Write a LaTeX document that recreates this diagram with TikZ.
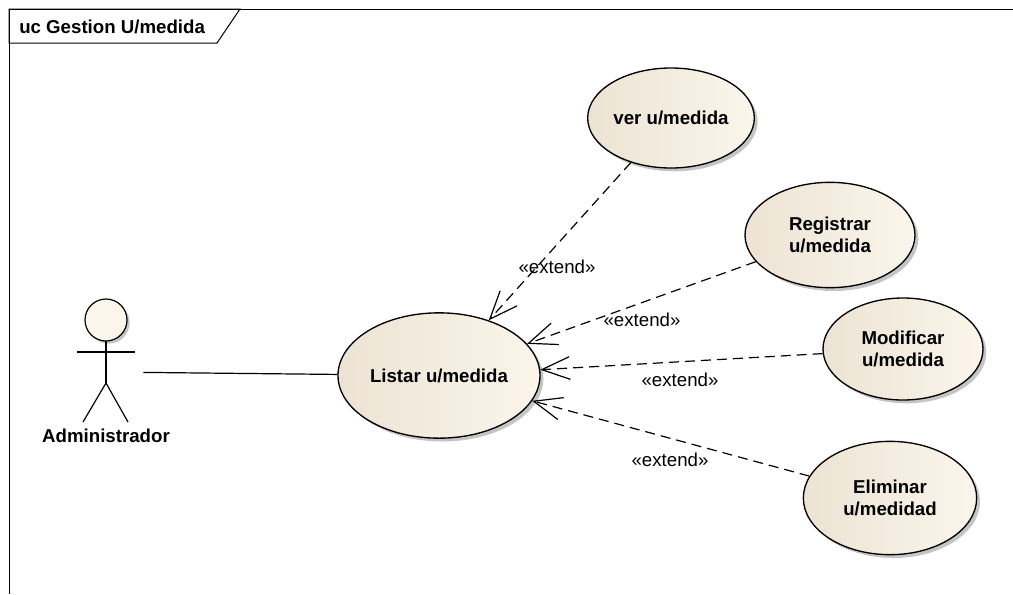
\documentclass[tikz,border=0pt]{standalone}
\usepackage{fontspec}
\setmainfont{Liberation Sans}
\usetikzlibrary{shapes.geometric,arrows.meta,shadows}

\definecolor{ucleft}{RGB}{236,227,212}
\definecolor{ucright}{RGB}{251,245,235}

\tikzset{
	usecase/.style={ellipse,draw,line width=1pt,left color=ucleft,right color=ucright,
		align=center,inner sep=0pt,font=\fontsize{14}{16.5}\selectfont\bfseries,
		drop shadow={shadow xshift=2.5pt,shadow yshift=-2.5pt,fill=black!45,opacity=.5}},
	extendline/.style={line width=0.9pt,dash pattern=on 7.5pt off 4.5pt,
		-{Straight Barb[length=21pt,width=17pt,line width=0.9pt]}},
	extendlabel/.style={font=\fontsize{14}{16}\selectfont,inner sep=0.75pt},
}

\begin{document}
\begin{tikzpicture}[x=0.75pt,y=0.75pt,yscale=-1,xscale=1]
	\useasboundingbox (0,0) rectangle (1013,594);
	
	%Frame
	\draw [line width=0.75pt] (9,594) -- (9,9) -- (1013,9) ;
	\draw [line width=0.75pt] (9,9) -- (240,9) -- (217,43) -- (9,43) -- cycle ;
	% Text Node
	\node (title) [anchor=west,inner sep=0.75pt,font=\fontsize{14}{16}\selectfont\bfseries] at (18,26.5) {uc Gestion U/medida};
	
	%Shape: Actor
	\node (admin) [minimum width=55.5pt,minimum height=100pt,inner sep=0pt] at (106,372) {};
	\draw [line width=0.9pt,fill=ucright,drop shadow={shadow xshift=2pt,shadow yshift=-2pt,fill=black!45,opacity=.5}] (106,320) circle [radius=21] ;
	\draw [line width=0.9pt] (106,341) -- (106,383) ;
	\draw [line width=0.9pt] (77,352) -- (135,352) ;
	\draw [line width=0.9pt] (83,422) -- (106,383) -- (128,422) ;
	% Text Node
	\node (adminlbl) [inner sep=0.75pt,font=\fontsize{14}{16}\selectfont\bfseries] at (106,436) {Administrador};
	
	%Shape: Use cases
	\node (listar) [usecase,minimum width=151.5pt,minimum height=94pt] at (439,375.5) {Listar u/medida};
	\node (ver) [usecase,minimum width=125pt,minimum height=75pt] at (671,118) {ver u/medida};
	\node (registrar) [usecase,minimum width=127.5pt,minimum height=79pt] at (830,235) {Registrar\\u/medida};
	\node (modificar) [usecase,minimum width=120pt,minimum height=76.5pt] at (903,349) {Modificar\\u/medida};
	\node (eliminar) [usecase,minimum width=130pt,minimum height=85pt] at (890,498) {Eliminar\\u/medidad};
	
	%Straight Lines: association
	\draw [line width=0.9pt] (admin) -- (listar) ;
	
	%Straight Lines: extend
	\draw [extendline] (ver) -- (listar) ;
	\draw [extendline] (registrar) -- (listar) ;
	\draw [extendline] (modificar) -- (listar) ;
	\draw [extendline] (eliminar) -- (listar) ;
	
	% Text Node
	\node (lblver) [extendlabel] at (557,267) {«extend»};
	% Text Node
	\node (lblreg) [extendlabel] at (642,320) {«extend»};
	% Text Node
	\node (lblmod) [extendlabel] at (680,380) {«extend»};
	% Text Node
	\node (lblelim) [extendlabel] at (670,460) {«extend»};
	
\end{tikzpicture}
\end{document}
